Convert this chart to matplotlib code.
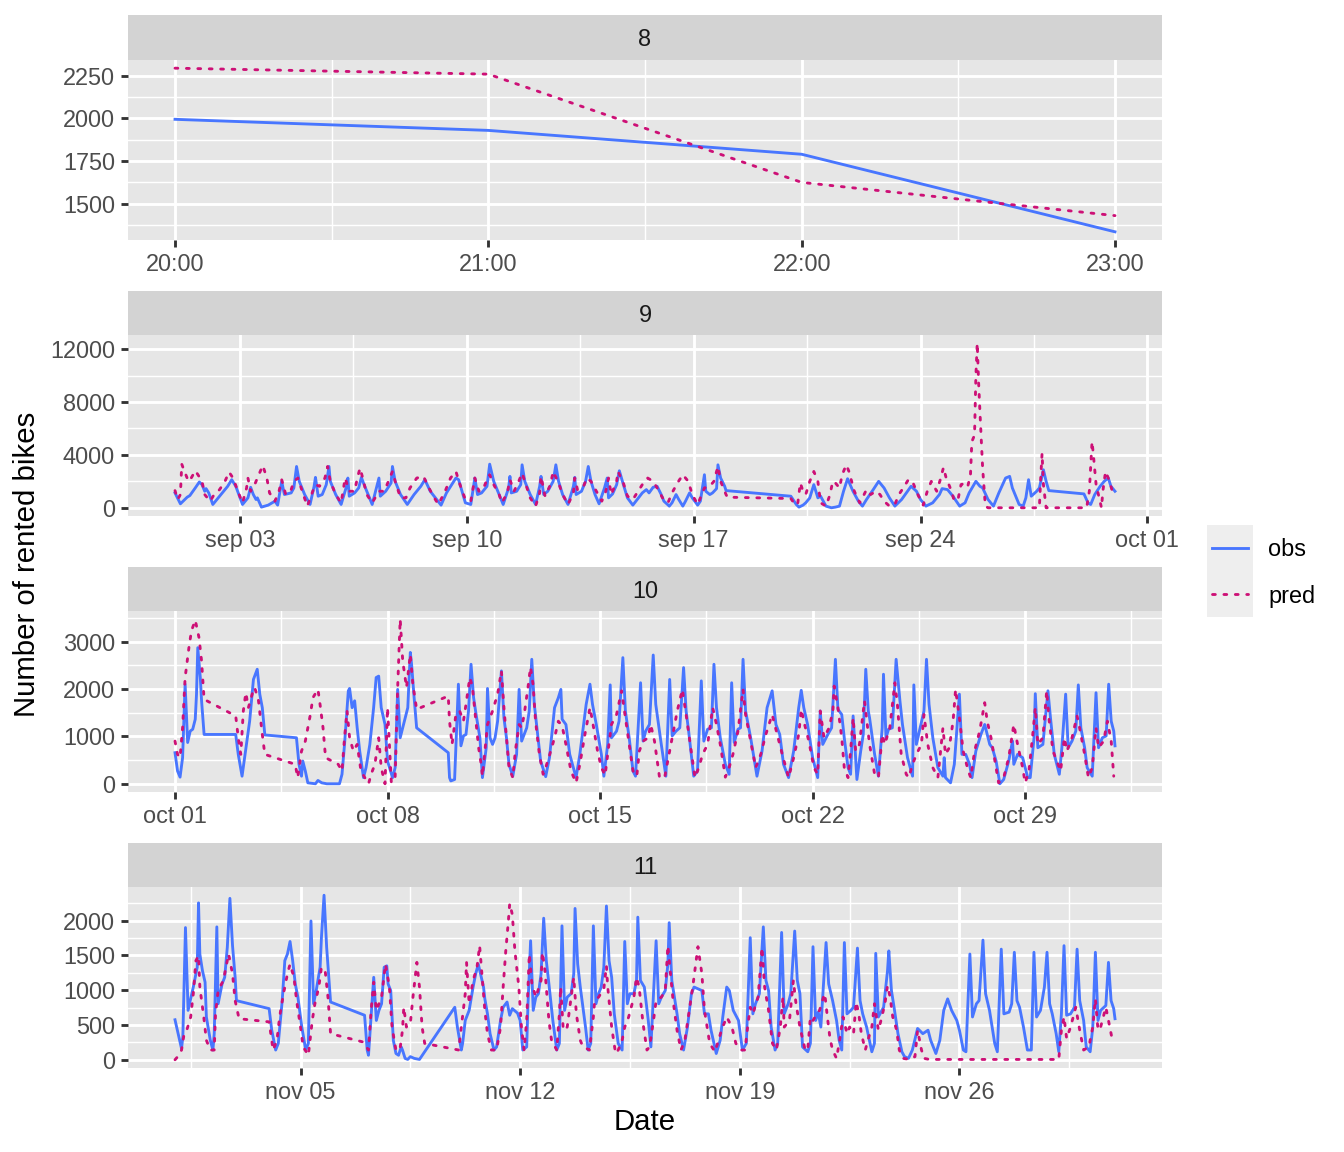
import matplotlib
matplotlib.use("Agg")
import matplotlib.pyplot as plt
from matplotlib.ticker import MultipleLocator, FixedLocator
import numpy as np
import pandas as pd

# ---- data: (hours since start of the month, rented bikes) ----
aug_hours = [20, 21, 22, 23]
aug_obs = [1995, 1930, 1790, 1335]
aug_pred = [2295, 2260, 1625, 1430]

sep_obs = [(0,1125),(4,300),(9,800),(11,925),(15,1500),(18,1950),(20,1750),(22,1250),(23,1450),(25,1125),
    (28,250),(34,1000),(39,1625),(42,2125),(45,1625),(50,250),(54,750),(56,1550),(58,1000),(60,625),
    (61,750),(64,50),(69,200),(74,500),(76,200),(79,2000),(81,1000),(86,1125),(88,1500),(90,3125),
    (92,2000),(96,1000),(100,250),(103,1625),(104,2300),(106,875),(109,1000),(112,1750),(114,3125),(115,2000),
    (119,1000),(123,250),(127,1625),(128,2250),(129,875),(133,1125),(136,1500),(138,2300),(140,1750),(143,1000),
    (146,250),(151,2250),(152,875),(156,1250),(160,1875),(161,3125),(163,2000),(167,1000),(172,250),(177,1000),
    (182,1625),(185,2125),(189,1250),(197,200),(201,1125),(208,2250),(210,2125),(215,375),(219,250),(222,2250),
    (224,1000),(227,1125),(231,1625),(233,3300),(236,2000),(240,1000),(243,250),(247,1500),(248,2375),(249,1125),
    (253,1250),(256,1750),(257,3250),(259,2000),(263,1000),(267,250),(270,1625),(271,2375),(273,1000),(276,1250),
    (280,2000),(282,3250),(284,2000),(287,1000),(291,250),(295,1625),(296,2300),(297,1000),(301,1250),(304,2000),
    (306,3125),(308,2000),(311,1000),(314,300),(318,1500),(320,2250),(321,750),(324,1050),(327,1750),(329,2800),
    (332,1750),(335,750),(339,200),(346,1125),(349,1375),(351,1125),(354,1550),(357,1625),(360,1000),(362,500),
    (366,125),(368,375),(371,1000),(373,625),(376,125),(378,500),(381,1125),(383,750),(387,200),(389,500),
    (392,2500),(393,1250),(396,1000),(398,1125),(401,1450),(402,3250),(404,2250),(407,1625),(408,1300),(456,875),
    (460,250),(462,50),(465,200),(467,375),(470,750),(473,1750),(476,750),(478,875),(482,125),(486,0),
    (489,50),(492,125),(495,1250),(498,2200),(502,1250),(506,500),(509,125),(512,625),(517,1375),(521,2000),
    (525,1500),(529,750),(533,125),(538,625),(541,1050),(545,1625),(549,1250),(552,625),(556,125),(561,375),
    (566,1000),(568,1450),(572,1375),(576,875),(581,125),(585,375),(588,1125),(593,2000),(596,1625),(598,1500),
    (602,625),(606,125),(610,1125),(615,2250),(618,2375),(620,1500),(625,250),(628,125),(630,750),(632,2125),
    (634,875),(638,1250),(640,1500),(643,2875),(645,2000),(647,1300),(673,1050),(676,375),(678,250),(681,1000),
    (685,1625),(688,2000),(691,2250),(693,1625),(696,1250)]
sep_pred = [(0,1300),(2,625),(4,1000),(5,3300),(7,2750),(10,2000),(12,2250),(15,2800),(17,2500),(20,2000),
    (22,1000),(26,500),(29,1000),(33,1375),(37,2000),(40,2700),(43,2250),(47,1125),(50,375),(53,1500),
    (54,2250),(56,1250),(59,1750),(61,2250),(65,3200),(68,2250),(70,1125),(74,500),(77,1250),(79,2125),
    (82,1000),(86,1375),(88,2000),(91,2250),(95,1000),(98,125),(102,1250),(104,1750),(107,1625),(111,2250),
    (113,3125),(115,2000),(119,1000),(123,375),(126,2250),(129,1250),(133,1250),(135,2250),(137,3000),(139,2250),
    (142,1000),(146,375),(151,1250),(155,1250),(158,2000),(161,2750),(163,2000),(167,750),(171,750),(174,1500),
    (179,2250),(184,2375),(188,1500),(192,750),(195,250),(200,1250),(204,2250),(208,2750),(211,1750),(215,625),
    (219,500),(222,2250),(225,1250),(228,1375),(231,2125),(233,2500),(236,1750),(240,1000),(242,375),(246,1125),
    (248,2125),(251,1250),(254,1875),(257,2625),(259,2000),(263,750),(267,125),(270,1125),(271,2375),(274,875),
    (278,1750),(280,2750),(284,1875),(287,1000),(291,250),(295,1125),(296,2250),(298,1375),(302,1500),(305,2250),
    (308,2000),(312,1250),(316,500),(319,1250),(321,2250),(323,1000),(327,2000),(328,2750),(332,1875),(335,875),
    (339,625),(346,1750),(350,2250),(354,2000),(357,1500),(361,750),(365,375),(368,1125),(372,1875),(376,2500),
    (380,2000),(383,1000),(387,250),(389,750),(392,1500),(396,1625),(399,2000),(402,3125),(404,2000),(408,1000),
    (409,800),(456,700),(459,250),(461,250),(463,1875),(465,1250),(467,1000),(470,2000),(473,2750),(476,2000),
    (478,375),(482,125),(485,1000),(487,2000),(489,1875),(492,1500),(494,2500),(497,3250),(499,2750),(503,1250),
    (507,375),(509,750),(512,1375),(515,1000),(519,1250),(522,1000),(525,500),(529,125),(533,250),(536,1000),
    (540,1625),(543,2125),(546,2000),(550,1000),(554,200),(557,1250),(560,2000),(564,1250),(567,2250),(569,3050),
    (571,2250),(575,1250),(577,500),(580,750),(582,1750),(585,1875),(587,1625),(589,2500),(590,5000),(592,5500),
    (593,10000),(594,12450),(595,9500),(596,7250),(598,3000),(600,125),(602,0),(640,0),(641,2250),(642,4125),
    (643,1750),(645,0),(675,0),(677,1250),(679,5000),(680,4000),(682,1750),(686,0),(687,1250),(689,2750),
    (692,2000),(694,1250)]

oct_obs = [(0,655),(2,270),(4,140),(6,550),(8,2100),(10,870),(12,1110),(14,1150),(16,1360),(17,1890),
    (18,2870),(20,2240),(21,1750),(23,1040),(48,1040),(50,620),(53,160),(55,550),(59,1320),(62,2200),
    (65,2415),(67,1890),(69,1605),(71,1030),(96,970),(98,410),(100,160),(101,480),(103,270),(105,20),
    (111,0),(113,70),(116,20),(120,0),(130,0),(132,200),(134,830),(137,1960),(138,2010),(140,1605),
    (142,1750),(144,1180),(146,690),(149,130),(151,340),(154,830),(157,1605),(159,2240),(161,2270),(163,1605),
    (166,1250),(168,480),(170,300),(172,130),(174,340),(176,1990),(178,970),(180,1180),(184,1605),(186,2770),
    (187,2520),(189,1820),(191,1180),(216,655),(217,130),(218,60),(221,90),(224,2100),(226,800),(228,1010),
    (230,1040),(232,1535),(234,2520),(236,1820),(238,1460),(241,970),(243,130),(246,760),(247,2010),(249,970),
    (251,830),(253,970),(255,1320),(258,2380),(260,1390),(262,970),(264,410),(267,160),(270,620),(272,1990),
    (274,900),(278,1180),(280,1535),(282,2625),(284,1675),(287,970),(289,480),(293,150),(296,550),(300,1605),
    (303,1815),(305,1990),(306,1360),(309,1250),(312,620),(317,130),(320,620),(325,1675),(328,2100),(330,1675),
    (333,1250),(337,620),(339,160),(342,830),(344,2085),(345,970),(349,1110),(351,1320),(354,2660),(356,1535),
    (359,970),(362,270),(364,160),(368,2130),(370,900),(372,1110),(375,1250),(378,2715),(380,1675),(384,900),
    (388,160),(391,2200),(393,1010),(396,1110),(399,1180),(402,2450),(404,1535),(406,1110),(410,160),(413,270),
    (416,2170),(418,900),(421,1150),(424,1180),(426,2520),(428,1605),(431,970),(435,410),(438,200),(440,2130),
    (442,870),(445,1150),(447,1180),(449,2625),(451,1535),(455,970),(460,160),(464,690),(468,1605),(472,1960),
    (475,1250),(478,1040),(481,410),(485,130),(489,690),(493,1605),(495,1970),(497,1605),(500,1250),(504,550),
    (508,130),(510,1535),(512,830),(516,1040),(519,1180),(520,1675),(522,2625),(524,1570),(527,1460),(529,970),
    (532,340),(534,200),(536,1430),(538,550),(539,90),(542,690),(544,1040),(546,2415),(548,1535),(549,1390),
    (553,620),(556,160),(559,1180),(560,2310),(562,970),(564,1150),(567,1180),(570,2625),(573,1750),(575,1250),
    (579,550),(583,160),(584,2085),(586,830),(589,1180),(592,1535),(594,2625),(596,1675),(599,970),(603,340),
    (607,160),(608,550),(609,130),(613,20),(616,410),(620,1890),(622,620),(625,620),(628,410),(630,130),
    (633,690),(637,1040),(640,1250),(644,830),(646,760),(649,480),(652,0),(655,90),(659,480),(662,900),
    (663,410),(666,620),(670,550),(674,130),(676,130),(679,970),(680,1900),(682,760),(686,830),(688,1390),
    (690,1960),(692,1390),(695,620),(699,200),(701,760),(704,1890),(706,760),(709,900),(712,1110),(714,2085),
    (716,1180),(719,760),(721,340),(725,160),(728,1920),(730,760),(733,970),(736,1010),(738,2100),(740,1320),
    (742,1110),(743,800)]
oct_pred = [(0,900),(2,620),(4,550),(6,1180),(8,2240),(11,2870),(13,3225),(16,3450),(19,3080),(21,2590),
    (23,1780),(48,1430),(50,970),(52,620),(54,1535),(56,1920),(58,1605),(61,1890),(63,2030),(66,1750),
    (69,1040),(71,620),(95,410),(97,130),(100,690),(103,900),(107,1460),(109,1815),(113,1990),(115,1605),
    (117,1180),(119,550),(124,480),(129,410),(132,270),(134,970),(136,1535),(138,970),(141,690),(144,830),
    (147,270),(150,130),(153,0),(155,200),(158,410),(161,970),(163,340),(166,0),(168,1605),(171,20),
    (174,130),(176,2030),(178,3470),(180,2590),(183,2030),(186,2730),(188,2100),(191,1570),(216,1850),(217,1320),
    (219,830),(222,1460),(225,1535),(228,1320),(230,1675),(233,2240),(235,2060),(237,1535),(240,760),(242,410),
    (243,160),(247,1250),(251,1535),(255,1890),(258,2380),(260,1605),(262,970),(264,340),(267,130),(269,690),
    (272,1250),(274,1180),(276,1460),(279,2030),(281,2460),(283,2100),(285,1320),(288,620),(291,200),(293,340),
    (297,690),(300,970),(303,1320),(306,1220),(309,830),(313,270),(317,20),(320,410),(324,1040),(328,1605),
    (330,1320),(334,690),(337,340),(340,180),(342,620),(345,1250),(349,1460),(353,1960),(356,1390),(359,830),
    (362,270),(365,160),(367,690),(370,900),(374,970),(376,1250),(379,900),(383,130),(387,130),(390,550),
    (395,1250),(397,1535),(401,1990),(404,1460),(408,690),(411,130),(414,340),(417,620),(421,830),(425,1605),
    (428,1250),(431,830),(435,140),(438,340),(441,620),(445,1110),(449,1990),(451,1460),(455,900),(459,340),
    (463,620),(467,1040),(472,1460),(476,1040),(480,620),(485,130),(489,550),(493,1040),(495,1570),(497,1320),
    (501,900),(505,340),(508,200),(510,1535),(513,970),(517,1180),(520,1535),(521,2060),(524,1605),(527,970),
    (529,340),(532,130),(534,690),(536,1390),(538,690),(541,830),(545,1750),(549,830),(553,200),(556,130),
    (559,1040),(561,830),(565,1180),(569,2130),(571,1675),(574,620),(578,200),(580,130),(583,410),(586,620),
    (590,830),(592,1460),(595,830),(599,340),(603,130),(607,1180),(609,620),(612,760),(615,1320),(617,1990),
    (620,1390),(623,690),(627,270),(629,130),(632,690),(636,1110),(640,1710),(642,1320),(645,970),(649,340),
    (651,20),(655,130),(659,550),(663,1250),(666,830),(670,340),(672,20),(675,270),(678,1040),(680,1605),
    (682,830),(686,970),(689,1960),(691,1320),(694,690),(697,480),(700,270),(703,970),(705,690),(709,970),
    (713,1430),(715,1180),(719,620),(722,130),(725,340),(728,1180),(730,760),(734,900),(737,1320),(740,900),
    (742,160)]

nov_obs = [(0,575),(3,330),(5,160),(6,330),(8,1900),(10,710),(12,875),(14,1045),(17,1330),(18,2255),
    (19,1520),(21,1280),(23,1115),(24,615),(27,280),(29,140),(30,375),(32,1910),(33,805),(36,1090),
    (38,1185),(40,1615),(42,2320),(44,1640),(46,1185),(47,850),(72,735),(74,425),(77,140),(79,235),
    (82,850),(84,1425),(86,1520),(88,1700),(90,1425),(92,1090),(94,900),(97,470),(100,140),(102,235),
    (104,1995),(106,805),(108,995),(111,1330),(112,1755),(114,2365),(116,1615),(119,830),(145,640),(147,140),
    (148,65),(150,615),(152,1185),(154,565),(156,710),(158,805),(160,1330),(162,1350),(163,1090),(165,995),
    (167,280),(169,90),(171,65),(173,185),(174,140),(176,20),(178,5),(180,45),(183,20),(187,5),
    (214,755),(216,470),(219,140),(220,235),(222,565),(225,710),(228,1045),(230,1235),(232,1375),(236,1045),
    (237,875),(239,660),(241,375),(244,140),(246,185),(249,565),(251,755),(254,830),(256,640),(258,735),
    (262,670),(264,565),(266,140),(269,185),(270,805),(272,1710),(274,710),(276,900),(278,950),(280,1235),
    (282,2035),(284,1425),(286,1090),(289,565),(292,140),(294,235),(296,1925),(298,710),(300,900),(303,950),
    (305,1235),(306,2175),(308,1375),(310,1045),(314,470),(316,140),(318,235),(320,1925),(322,805),(324,950),
    (326,1045),(328,1330),(330,2210),(332,1425),(334,1185),(336,660),(339,235),(342,140),(344,1700),(346,805),
    (348,950),(351,950),(353,1140),(354,2050),(356,1140),(359,1045),(362,565),(364,185),(368,1710),(370,805),
    (372,900),(375,995),(377,1375),(378,1970),(380,1140),(384,660),(386,375),(389,140),(392,470),(395,950),
    (397,1045),(400,1020),(403,995),(405,660),(408,660),(410,425),(414,90),(417,280),(419,615),(422,1045),
    (424,995),(427,710),(431,565),(434,140),(437,235),(440,1755),(442,660),(444,805),(447,950),(448,1280),
    (450,1910),(452,1140),(454,995),(456,470),(459,140),(461,235),(464,1830),(466,660),(469,805),(471,950),
    (474,1850),(476,1140),(478,950),(480,185),(484,115),(486,235),(488,1625),(490,565),(492,685),(494,470),
    (498,1685),(500,1090),(503,850),(506,565),(508,280),(510,140),(512,1685),(514,660),(517,710),(519,755),
    (522,1605),(524,850),(526,660),(529,470),(533,115),(535,235),(536,1530),(538,615),(542,755),(545,1280),
    (546,1565),(548,995),(550,755),(553,375),(556,115),(558,45),(561,20),(564,140),(568,450),(572,375),
    (576,425),(578,280),(582,90),(585,280),(588,710),(591,875),(594,710),(598,565),(600,425),(603,140),
    (605,115),(608,1520),(610,615),(613,805),(615,850),(618,1720),(620,950),(623,710),(627,235),(629,115),
    (632,1590),(634,660),(638,685),(640,805),(642,1545),(644,850),(646,755),(649,470),(652,140),(655,140),
    (657,1545),(659,615),(662,710),(665,1045),(667,1545),(669,805),(671,660),(674,375),(676,115),(678,660),
    (680,1640),(682,640),(685,660),(688,755),(690,1590),(692,850),(695,565),(697,185),(700,115),(702,470),
    (704,1545),(706,565),(708,710),(712,780),(714,1400),(716,850),(718,735),(719,590)]
nov_pred = [(0,0),(3,65),(5,140),(7,375),(9,425),(12,615),(14,950),(16,1425),(18,1495),(19,1045),
    (22,615),(24,280),(27,140),(30,140),(31,660),(33,995),(37,1140),(41,1520),(44,1235),(46,850),
    (49,590),(72,545),(75,140),(78,280),(80,615),(83,950),(86,1235),(88,1375),(91,1185),(93,850),
    (96,470),(98,185),(102,65),(105,565),(107,805),(110,1045),(112,1330),(115,1255),(117,900),(119,375),
    (144,255),(148,140),(150,710),(152,1115),(154,710),(158,900),(161,1375),(164,1045),(166,470),(169,140),
    (172,140),(174,425),(175,755),(177,470),(180,520),(182,900),(185,1400),(187,1045),(189,470),(191,235),
    (217,140),(219,470),(222,950),(223,1400),(225,805),(228,1140),(231,1330),(233,1640),(237,710),(239,375),
    (242,140),(246,140),(249,470),(251,1045),(253,1565),(255,1995),(256,2245),(258,2090),(260,1565),(263,1045),
    (265,470),(267,140),(269,565),(271,1520),(273,1090),(276,900),(278,1020),(280,1140),(281,1545),(283,1280),
    (286,565),(288,280),(292,140),(294,660),(295,1045),(297,425),(300,470),(302,755),(305,1185),(307,660),
    (310,280),(312,185),(315,160),(317,140),(320,615),(321,850),(324,900),(328,1020),(330,1350),(331,1045),
    (334,470),(337,90),(339,140),(342,280),(344,470),(347,615),(349,755),(351,900),(353,1185),(355,1045),
    (358,520),(361,140),(363,185),(366,565),(368,850),(372,900),(375,995),(377,1640),(379,1235),(381,850),
    (384,425),(387,140),(390,280),(393,660),(396,1045),(400,1625),(403,1235),(405,710),(409,235),(413,115),
    (415,235),(418,425),(422,615),(426,470),(429,235),(433,140),(436,140),(438,470),(440,755),(442,660),
    (446,900),(449,1615),(451,1045),(454,710),(457,235),(460,140),(463,470),(465,900),(466,470),(470,565),
    (473,1140),(475,805),(478,470),(482,140),(484,140),(486,615),(488,565),(491,660),(493,710),(496,900),
    (497,950),(499,615),(501,305),(503,140),(506,20),(508,235),(511,615),(514,375),(516,470),(519,375),
    (521,830),(523,660),(525,375),(528,140),(530,280),(533,470),(535,805),(538,425),(540,565),(543,805),
    (545,1065),(547,900),(549,615),(552,425),(554,140),(557,20),(562,5),(566,45),(568,425),(571,140),
    (573,20),(577,5),(676,5),(678,425),(680,615),(682,305),(685,470),(689,755),(692,425),(695,140),
    (699,185),(702,470),(704,875),(706,425),(708,470),(712,755),(714,565),(717,280),(719,280)]

aug_ticks = ["2018-08-31 20:00", "2018-08-31 21:00", "2018-08-31 22:00", "2018-08-31 23:00"]
aug_labels = ["20:00", "21:00", "22:00", "23:00"]
sep_ticks = ["2018-09-03", "2018-09-10", "2018-09-17", "2018-09-24", "2018-10-01"]
sep_labels = ["sep 03", "sep 10", "sep 17", "sep 24", "oct 01"]
oct_ticks = ["2018-10-01", "2018-10-08", "2018-10-15", "2018-10-22", "2018-10-29"]
oct_labels = ["oct 01", "oct 08", "oct 15", "oct 22", "oct 29"]
nov_ticks = ["2018-11-05", "2018-11-12", "2018-11-19", "2018-11-26"]
nov_labels = ["nov 05", "nov 12", "nov 19", "nov 26"]

# ---- style ----
plt.rcParams['font.family'] = ['Liberation Sans', 'DejaVu Sans']
OBS_COL = '#4876FF'
PRED_COL = '#CD1076'
PANEL_BG = '#E6E6E6'
STRIP_BG = '#D3D3D3'
LW = 1.07
W, H = 1344, 1152

fig = plt.figure(figsize=(7, 6), dpi=192)


def split(pairs):
    return [p[0] for p in pairs], [p[1] for p in pairs]


def hours_of(start, stamps):
    t0 = pd.Timestamp(start)
    return [(pd.Timestamp(s) - t0) / pd.Timedelta(hours=1) for s in stamps]


def draw_panel(name, tops, start, x_obs, y_obs, x_pred, y_pred, ticks, labels, ystep):
    strip_top, panel_top, panel_bot = tops
    sax = fig.add_axes([128 / W, 1 - panel_top / H, 1034 / W, (panel_top - strip_top) / H])
    sax.set_facecolor(STRIP_BG)
    sax.set_xticks([]); sax.set_yticks([])
    for s in sax.spines.values():
        s.set_visible(False)
    sax.text(0.5, 0.45, name, ha='center', va='center', fontsize=8.8, color='#1A1A1A',
             transform=sax.transAxes)

    ax = fig.add_axes([128 / W, 1 - panel_bot / H, 1034 / W, (panel_bot - panel_top) / H])
    ax.set_facecolor(PANEL_BG)
    ax.plot(x_obs, y_obs, color=OBS_COL, lw=LW)
    ax.plot(x_pred, y_pred, color=PRED_COL, lw=LW, linestyle=(0, (1, 3)),
            dash_capstyle='round')
    ax.margins(0.05)
    for s in ax.spines.values():
        s.set_visible(False)

    major = hours_of(start, ticks)
    ax.set_xticks(major)
    ax.set_xticklabels(labels)
    lo, hi = ax.get_xlim()
    step = major[1] - major[0]
    minor = np.arange(major[0] - step / 2, hi, step)
    ax.xaxis.set_minor_locator(FixedLocator([m for m in minor if lo <= m <= hi]))
    ax.yaxis.set_major_locator(MultipleLocator(ystep))
    ax.yaxis.set_minor_locator(MultipleLocator(ystep / 2))
    ax.yaxis.set_major_formatter(lambda v, p: f"{v:.0f}")

    ax.grid(which='major', color='white', lw=LW)
    ax.grid(which='minor', color='white', lw=LW / 2)
    ax.set_axisbelow(True)
    ax.tick_params(which='major', length=2.75, width=LW, color='#333333', pad=2.2,
                   labelsize=8.8, labelcolor='#4D4D4D')
    ax.tick_params(which='minor', length=0)
    return ax


ax8 = draw_panel("8", (15, 60, 240), "2018-08-31", aug_hours, aug_obs, aug_hours, aug_pred,
                 aug_ticks, aug_labels, 250)
ax8.set_xlim(19.85, 23.15)
x, y = split(sep_obs); xp, yp = split(sep_pred)
draw_panel("9", (291, 335, 516), "2018-09-01", x, y, xp, yp, sep_ticks, sep_labels, 4000)
x, y = split(oct_obs); xp, yp = split(oct_pred)
draw_panel("10", (567, 611, 792), "2018-10-01", x, y, xp, yp, oct_ticks, oct_labels, 1000)
x, y = split(nov_obs); xp, yp = split(nov_pred)
draw_panel("11", (843, 887, 1068), "2018-11-01", x, y, xp, yp, nov_ticks, nov_labels, 500)

# legend keys
lax = fig.add_axes([1207 / W, 1 - 617 / H, 46 / W, 92 / H])
lax.set_facecolor('#EEEEEE')
lax.set_xticks([]); lax.set_yticks([])
for s in lax.spines.values():
    s.set_visible(False)
lax.set_xlim(0, 1); lax.set_ylim(0, 1)
lax.plot([0.1, 0.9], [0.75, 0.75], color=OBS_COL, lw=LW)
lax.plot([0.1, 0.9], [0.25, 0.25], color=PRED_COL, lw=LW, linestyle=(0, (1, 3)),
         dash_capstyle='round')
fig.text(1268 / W, 1 - 549 / H, "obs", fontsize=8.8, va='center', ha='left')
fig.text(1268 / W, 1 - 596 / H, "pred", fontsize=8.8, va='center', ha='left')

fig.text(27 / W, 1 - 564 / H, "Number of rented bikes", rotation=90, fontsize=11,
         ha='center', va='center')
fig.text(645 / W, 1 - 1122 / H, "Date", fontsize=11, ha='center', va='center')

fig.savefig("out.png", dpi=192, facecolor='white')
